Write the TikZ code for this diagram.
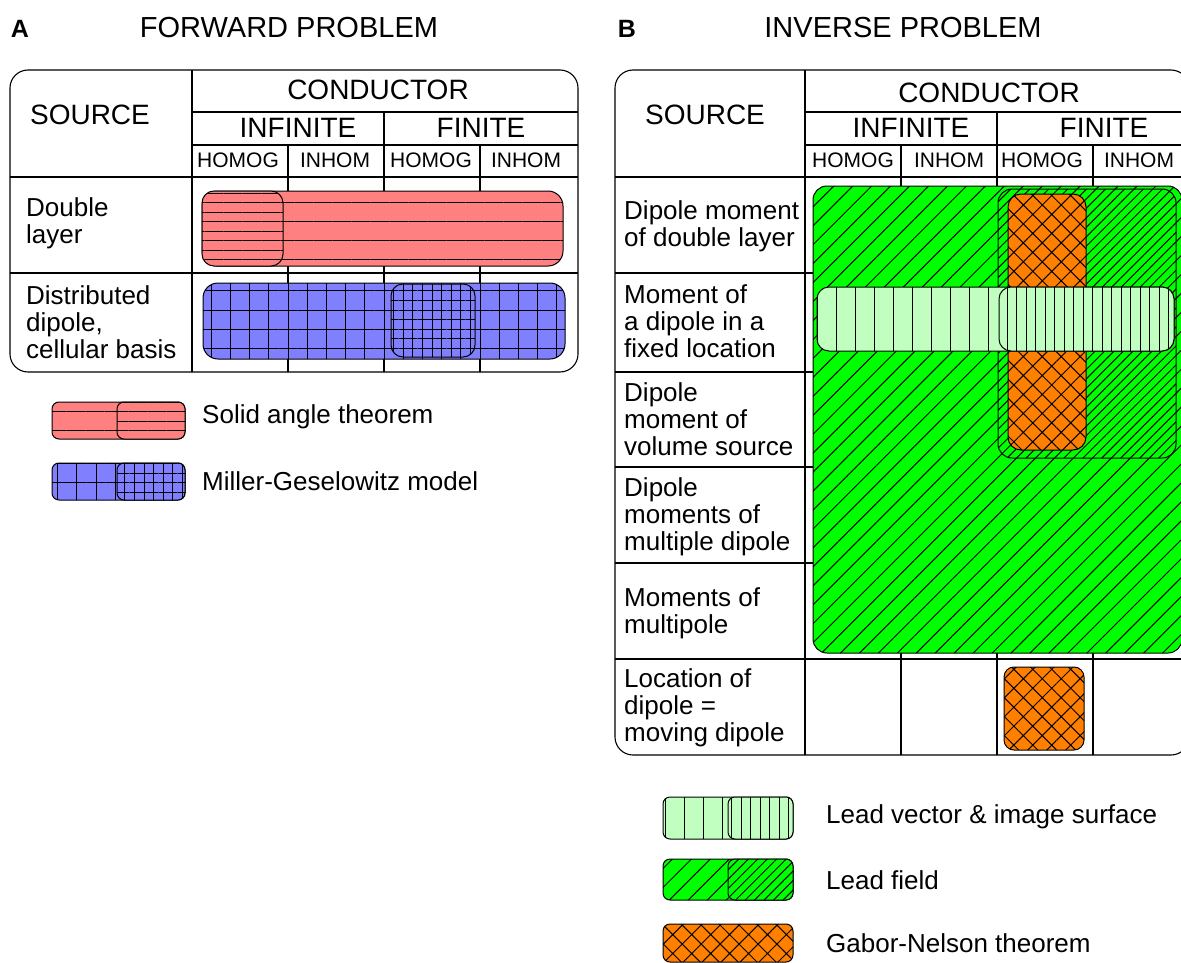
\documentclass[tikz,border=0pt]{standalone}
\usepackage{fontspec}
\setmainfont{Liberation Sans}
\usetikzlibrary{patterns.meta}
\definecolor{boxRed}{RGB}{255, 128, 128}
\definecolor{boxBlue}{RGB}{128, 128, 255}
\definecolor{boxGreen}{RGB}{0, 255, 0}
\definecolor{boxMint}{RGB}{192, 255, 192}
\definecolor{boxOrange}{RGB}{255, 128, 0}

\tikzset{
  rule/.style={line width=1.1pt},
  bar/.style 2 args={draw, line width=1pt, preaction={fill=#1}, pattern={#2}, pattern color=black},
  head/.style={font=\fontsize{28}{30}\selectfont},
  title/.style={font=\fontsize{29}{31}\selectfont},
  panel/.style={font=\bfseries\fontsize{25}{27}\selectfont},
  subhead/.style={font=\fontsize{21}{23}\selectfont},
  rowlabel/.style={anchor=north west, align=left, inner sep=0pt, font=\fontsize{26}{27}\selectfont},
  legendtext/.style={anchor=west, inner sep=0pt, font=\fontsize{26}{27}\selectfont},
}

\begin{document}
\begin{tikzpicture}[x=1pt, y=-1pt]
      \useasboundingbox (0,0) rectangle (1181,963);

      % Titles
      \node[panel] (labA) at (20,29) {A};
      \node[title] (titleA) at (289,28) {FORWARD PROBLEM};
      \node[panel] (labB) at (627,29) {B};
      \node[title] (titleB) at (903,28) {INVERSE PROBLEM};

      % Forward problem table
      \draw[rule, rounded corners=18] (10,70) rectangle (578,372);
      \draw[rule] (192,70) -- (192,372);
      \draw[rule] (192,112) -- (578,112);
      \draw[rule] (192,145) -- (578,145);
      \draw[rule] (10,177) -- (578,177);
      \draw[rule] (10,273) -- (578,273);
      \draw[rule] (384,112) -- (384,372);
      \draw[rule] (288,145) -- (288,372);
      \draw[rule] (480,145) -- (480,372);
      \node[head] (srcA) at (90,115) {SOURCE};
      \node[head] (condA) at (378,90) {CONDUCTOR};
      \node[head] (infA) at (298,128) {INFINITE};
      \node[head] (finA) at (481,128) {FINITE};
      \node[subhead] (homA1) at (238,160) {HOMOG};
      \node[subhead] (inhA1) at (335,160) {INHOM};
      \node[subhead] (homA2) at (431,160) {HOMOG};
      \node[subhead] (inhA2) at (526,160) {INHOM};
      \node[rowlabel] (rowA1) at (26,197) {Double\\layer};
      \node[rowlabel] (rowA2) at (26,285) {Distributed\\dipole,\\cellular basis};

      % Solid angle theorem bar
      \draw[bar={boxRed}{Lines[angle=0, distance=19pt, line width=1pt]}, rounded corners=15] (202,191) rectangle (563,266);
      \draw[bar={boxRed}{Lines[angle=0, distance=9.5pt, line width=1pt]}, rounded corners=12] (202,191) rectangle (283,266);

      % Miller-Geselowitz bar
      \draw[bar={boxBlue}{Hatch[angle=0, distance=19.2pt, line width=1pt]}, rounded corners=15] (203,283) rectangle (565,359);
      \draw[bar={boxBlue}{Hatch[angle=0, distance=9.6pt, line width=1pt]}, rounded corners=12] (391,284) rectangle (475,357);

      % Forward legend
      \draw[bar={boxRed}{Lines[angle=0, distance=19pt, line width=1pt]}, rounded corners=7] (52,402) rectangle (185,439);
      \draw[bar={boxRed}{Lines[angle=0, distance=9.5pt, line width=1pt]}, rounded corners=7] (117,402) rectangle (185,439);
      \node[legendtext] (legSolid) at (202,417) {Solid angle theorem};
      \draw[bar={boxBlue}{Hatch[angle=0, distance=19.2pt, line width=1pt]}, rounded corners=7] (52,463) rectangle (185,500);
      \draw[bar={boxBlue}{Hatch[angle=0, distance=9.6pt, line width=1pt]}, rounded corners=7] (117,463) rectangle (185,500);
      \node[legendtext] (legMiller) at (202,481) {Miller-Geselowitz model};

      % Inverse problem table
      \draw[rule, rounded corners=18] (615,70) rectangle (1189,755);
      \draw[rule] (805,70) -- (805,755);
      \draw[rule] (805,112) -- (1189,112);
      \draw[rule] (805,145) -- (1189,145);
      \draw[rule] (615,177) -- (1189,177);
      \draw[rule] (615,273) -- (1189,273);
      \draw[rule] (615,372) -- (1189,372);
      \draw[rule] (615,467) -- (1189,467);
      \draw[rule] (615,563) -- (1189,563);
      \draw[rule] (615,659) -- (1189,659);
      \draw[rule] (997,112) -- (997,755);
      \draw[rule] (901,145) -- (901,755);
      \draw[rule] (1093,145) -- (1093,755);
      \node[head] (srcB) at (705,115) {SOURCE};
      \node[head] (condB) at (989,93) {CONDUCTOR};
      \node[head] (infB) at (911,128) {INFINITE};
      \node[head] (finB) at (1104,128) {FINITE};
      \node[subhead] (homB1) at (853,160) {HOMOG};
      \node[subhead] (inhB1) at (949,160) {INHOM};
      \node[subhead] (homB2) at (1042,160) {HOMOG};
      \node[subhead] (inhB2) at (1139,160) {INHOM};
      \node[rowlabel] (rowB1) at (624,200) {Dipole moment\\of double layer};
      \node[rowlabel] (rowB2) at (624,284) {Moment of\\a dipole in a\\fixed location};
      \node[rowlabel] (rowB3) at (624,382) {Dipole\\moment of\\volume source};
      \node[rowlabel] (rowB4) at (624,477) {Dipole\\moments of\\multiple dipole};
      \node[rowlabel] (rowB5) at (624,587) {Moments of\\multipole};
      \node[rowlabel] (rowB6) at (624,668) {Location of\\dipole =\\moving dipole};

      % Lead field
      \draw[bar={boxGreen}{Lines[angle=45, distance=13.4pt, line width=1pt]}, rounded corners=14] (813,186) rectangle (1182,653);
      \draw[bar={boxGreen}{Lines[angle=45, distance=6.7pt, line width=1pt]}, rounded corners=14] (998,189) rectangle (1176,458);

      % Gabor-Nelson theorem
      \draw[bar={boxOrange}{Hatch[angle=45, distance=13.4pt, line width=1pt]}, rounded corners=13] (1008,194) rectangle (1086,450);
      \draw[bar={boxOrange}{Hatch[angle=45, distance=13.4pt, line width=1pt]}, rounded corners=10] (1004,667) rectangle (1084,750);

      % Lead vector and image surface
      \draw[bar={boxMint}{Lines[angle=90, distance=19pt, line width=1pt]}, rounded corners=12] (817,287) rectangle (1174,351);
      \draw[bar={boxMint}{Lines[angle=90, distance=9.5pt, line width=1pt]}, rounded corners=12] (999,287) rectangle (1174,351);

      % Inverse legend
      \draw[bar={boxMint}{Lines[angle=90, distance=19pt, line width=1pt]}, rounded corners=7] (663,797) rectangle (793,839);
      \draw[bar={boxMint}{Lines[angle=90, distance=9.5pt, line width=1pt]}, rounded corners=7] (728,797) rectangle (793,839);
      \node[legendtext] (legVector) at (826,817) {Lead vector \& image surface};
      \draw[bar={boxGreen}{Lines[angle=45, distance=13.4pt, line width=1pt]}, rounded corners=7] (663,859) rectangle (793,900);
      \draw[bar={boxGreen}{Lines[angle=45, distance=6.7pt, line width=1pt]}, rounded corners=7] (728,859) rectangle (793,900);
      \node[legendtext] (legField) at (826,880) {Lead field};
      \draw[bar={boxOrange}{Hatch[angle=45, distance=13.4pt, line width=1pt]}, rounded corners=7] (663,924) rectangle (793,962);
      \node[legendtext] (legGabor) at (826,943) {Gabor-Nelson theorem};
    \end{tikzpicture}
\end{document}
